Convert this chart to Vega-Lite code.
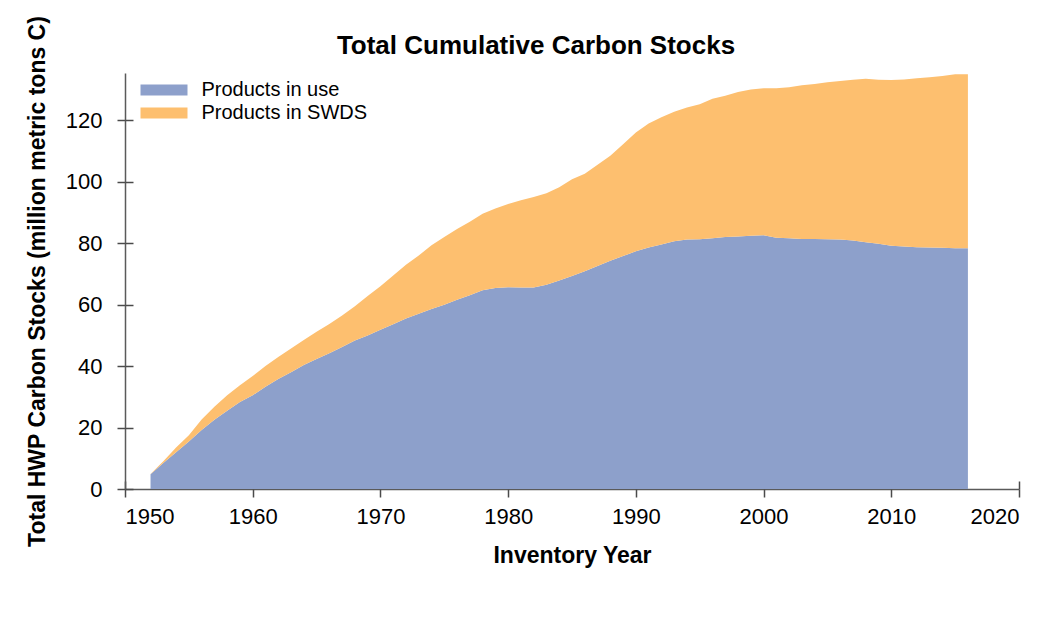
{
  "$schema": "https://vega.github.io/schema/vega-lite/v6.json",
  "autosize": "none",
  "width": 894,
  "height": 416,
  "padding": {"left": 125, "top": 73, "right": 31, "bottom": 149},
  "background": "white",
  "title": {"text": "Total Cumulative Carbon Stocks", "font": "Liberation Sans", "fontSize": 26, "fontWeight": "bold", "color": "#000000", "anchor": "middle", "frame": "group", "dx": -36, "dy": 59, "offset": 15},
  "config": {
    "view": {"stroke": null},
    "axis": {"grid": false, "labelFont": "Liberation Sans", "titleFont": "Liberation Sans", "labelColor": "#000000", "titleColor": "#000000", "domainColor": "#5a5a5a", "domainWidth": 1.5, "tickColor": "#4a4a4a", "tickWidth": 1.5}
  },
  "data": {"values": [
    {"year":1952,"pool":"Products in use","value":4.8},{"year":1952,"pool":"Products in SWDS","value":0.1},
    {"year":1953,"pool":"Products in use","value":8.5},{"year":1953,"pool":"Products in SWDS","value":0.5},
    {"year":1954,"pool":"Products in use","value":12.0},{"year":1954,"pool":"Products in SWDS","value":1.5},
    {"year":1955,"pool":"Products in use","value":15.5},{"year":1955,"pool":"Products in SWDS","value":2.0},
    {"year":1956,"pool":"Products in use","value":19.2},{"year":1956,"pool":"Products in SWDS","value":3.4},
    {"year":1957,"pool":"Products in use","value":22.5},{"year":1957,"pool":"Products in SWDS","value":4.3},
    {"year":1958,"pool":"Products in use","value":25.5},{"year":1958,"pool":"Products in SWDS","value":5.0},
    {"year":1959,"pool":"Products in use","value":28.3},{"year":1959,"pool":"Products in SWDS","value":5.5},
    {"year":1960,"pool":"Products in use","value":30.5},{"year":1960,"pool":"Products in SWDS","value":6.3},
    {"year":1961,"pool":"Products in use","value":33.3},{"year":1961,"pool":"Products in SWDS","value":6.7},
    {"year":1962,"pool":"Products in use","value":35.8},{"year":1962,"pool":"Products in SWDS","value":7.2},
    {"year":1963,"pool":"Products in use","value":38.0},{"year":1963,"pool":"Products in SWDS","value":7.7},
    {"year":1964,"pool":"Products in use","value":40.4},{"year":1964,"pool":"Products in SWDS","value":8.1},
    {"year":1965,"pool":"Products in use","value":42.3},{"year":1965,"pool":"Products in SWDS","value":8.9},
    {"year":1966,"pool":"Products in use","value":44.2},{"year":1966,"pool":"Products in SWDS","value":9.5},
    {"year":1967,"pool":"Products in use","value":46.2},{"year":1967,"pool":"Products in SWDS","value":10.3},
    {"year":1968,"pool":"Products in use","value":48.3},{"year":1968,"pool":"Products in SWDS","value":11.2},
    {"year":1969,"pool":"Products in use","value":50.0},{"year":1969,"pool":"Products in SWDS","value":12.8},
    {"year":1970,"pool":"Products in use","value":51.8},{"year":1970,"pool":"Products in SWDS","value":14.2},
    {"year":1971,"pool":"Products in use","value":53.6},{"year":1971,"pool":"Products in SWDS","value":15.9},
    {"year":1972,"pool":"Products in use","value":55.5},{"year":1972,"pool":"Products in SWDS","value":17.5},
    {"year":1973,"pool":"Products in use","value":57.0},{"year":1973,"pool":"Products in SWDS","value":19.0},
    {"year":1974,"pool":"Products in use","value":58.6},{"year":1974,"pool":"Products in SWDS","value":20.7},
    {"year":1975,"pool":"Products in use","value":60.0},{"year":1975,"pool":"Products in SWDS","value":22.0},
    {"year":1976,"pool":"Products in use","value":61.6},{"year":1976,"pool":"Products in SWDS","value":23.0},
    {"year":1977,"pool":"Products in use","value":63.1},{"year":1977,"pool":"Products in SWDS","value":23.9},
    {"year":1978,"pool":"Products in use","value":64.7},{"year":1978,"pool":"Products in SWDS","value":24.9},
    {"year":1979,"pool":"Products in use","value":65.4},{"year":1979,"pool":"Products in SWDS","value":25.9},
    {"year":1980,"pool":"Products in use","value":65.7},{"year":1980,"pool":"Products in SWDS","value":27.1},
    {"year":1981,"pool":"Products in use","value":65.6},{"year":1981,"pool":"Products in SWDS","value":28.4},
    {"year":1982,"pool":"Products in use","value":65.6},{"year":1982,"pool":"Products in SWDS","value":29.4},
    {"year":1983,"pool":"Products in use","value":66.5},{"year":1983,"pool":"Products in SWDS","value":29.8},
    {"year":1984,"pool":"Products in use","value":67.9},{"year":1984,"pool":"Products in SWDS","value":30.3},
    {"year":1985,"pool":"Products in use","value":69.3},{"year":1985,"pool":"Products in SWDS","value":31.5},
    {"year":1986,"pool":"Products in use","value":70.9},{"year":1986,"pool":"Products in SWDS","value":31.7},
    {"year":1987,"pool":"Products in use","value":72.6},{"year":1987,"pool":"Products in SWDS","value":32.9},
    {"year":1988,"pool":"Products in use","value":74.3},{"year":1988,"pool":"Products in SWDS","value":34.2},
    {"year":1989,"pool":"Products in use","value":75.8},{"year":1989,"pool":"Products in SWDS","value":36.4},
    {"year":1990,"pool":"Products in use","value":77.4},{"year":1990,"pool":"Products in SWDS","value":38.6},
    {"year":1991,"pool":"Products in use","value":78.6},{"year":1991,"pool":"Products in SWDS","value":40.4},
    {"year":1992,"pool":"Products in use","value":79.6},{"year":1992,"pool":"Products in SWDS","value":41.4},
    {"year":1993,"pool":"Products in use","value":80.6},{"year":1993,"pool":"Products in SWDS","value":42.2},
    {"year":1994,"pool":"Products in use","value":81.2},{"year":1994,"pool":"Products in SWDS","value":43.0},
    {"year":1995,"pool":"Products in use","value":81.3},{"year":1995,"pool":"Products in SWDS","value":43.9},
    {"year":1996,"pool":"Products in use","value":81.6},{"year":1996,"pool":"Products in SWDS","value":45.4},
    {"year":1997,"pool":"Products in use","value":82.0},{"year":1997,"pool":"Products in SWDS","value":46.0},
    {"year":1998,"pool":"Products in use","value":82.2},{"year":1998,"pool":"Products in SWDS","value":47.0},
    {"year":1999,"pool":"Products in use","value":82.4},{"year":1999,"pool":"Products in SWDS","value":47.6},
    {"year":2000,"pool":"Products in use","value":82.6},{"year":2000,"pool":"Products in SWDS","value":47.8},
    {"year":2001,"pool":"Products in use","value":81.8},{"year":2001,"pool":"Products in SWDS","value":48.6},
    {"year":2002,"pool":"Products in use","value":81.6},{"year":2002,"pool":"Products in SWDS","value":49.2},
    {"year":2003,"pool":"Products in use","value":81.4},{"year":2003,"pool":"Products in SWDS","value":50.0},
    {"year":2004,"pool":"Products in use","value":81.4},{"year":2004,"pool":"Products in SWDS","value":50.4},
    {"year":2005,"pool":"Products in use","value":81.3},{"year":2005,"pool":"Products in SWDS","value":51.1},
    {"year":2006,"pool":"Products in use","value":81.2},{"year":2006,"pool":"Products in SWDS","value":51.6},
    {"year":2007,"pool":"Products in use","value":80.9},{"year":2007,"pool":"Products in SWDS","value":52.3},
    {"year":2008,"pool":"Products in use","value":80.3},{"year":2008,"pool":"Products in SWDS","value":53.2},
    {"year":2009,"pool":"Products in use","value":79.8},{"year":2009,"pool":"Products in SWDS","value":53.4},
    {"year":2010,"pool":"Products in use","value":79.2},{"year":2010,"pool":"Products in SWDS","value":53.9},
    {"year":2011,"pool":"Products in use","value":78.9},{"year":2011,"pool":"Products in SWDS","value":54.4},
    {"year":2012,"pool":"Products in use","value":78.7},{"year":2012,"pool":"Products in SWDS","value":55.0},
    {"year":2013,"pool":"Products in use","value":78.6},{"year":2013,"pool":"Products in SWDS","value":55.4},
    {"year":2014,"pool":"Products in use","value":78.5},{"year":2014,"pool":"Products in SWDS","value":55.9},
    {"year":2015,"pool":"Products in use","value":78.4},{"year":2015,"pool":"Products in SWDS","value":56.6},
    {"year":2016,"pool":"Products in use","value":78.4},{"year":2016,"pool":"Products in SWDS","value":56.6}
  ]},
  "layer": [
    {
      "mark": {"type": "area", "interpolate": "linear", "opacity": 1},
      "encoding": {
        "x": {"field": "year", "type": "quantitative", "scale": {"domain": [1950, 2020], "nice": false, "zero": false},
          "axis": {"orient": "bottom", "values": [1950,1960,1970,1980,1990,2000,2010,2020], "format": "d", "tickSize": 8, "labelFontSize": 22, "labelPadding": 9, "title": "Inventory Year", "titleFontSize": 23, "titleFontWeight": "bold", "titlePadding": 17}},
        "y": {"field": "value", "type": "quantitative", "stack": "zero", "scale": {"domain": [0, 135.4], "nice": false},
          "axis": {"orient": "left", "values": [0,20,40,60,80,100,120], "tickSize": 8, "labelFontSize": 22, "labelPadding": 15, "title": "Total HWP Carbon Stocks (million metric tons C)", "titleFontSize": 23, "titleFontWeight": "bold", "titlePadding": 16}},
        "color": {"field": "pool", "type": "nominal", "sort": ["Products in use", "Products in SWDS"],
          "scale": {"domain": ["Products in use", "Products in SWDS"], "range": ["#8da0cb", "#fdbf6f"]},
          "legend": {"orient": "none", "legendX": 27, "legendY": 5, "title": null, "padding": 0, "symbolType": "M-2,-0.468H2V0.468H-2Z", "symbolSize": 552, "symbolStrokeWidth": 0, "symbolOpacity": 1, "labelFont": "Liberation Sans", "labelFontSize": 20, "labelColor": "#000000", "labelOffset": 25.5, "labelLimit": 400, "rowPadding": 1}}
      }
    },
    {
      "mark": {"type": "point", "opacity": 0},
      "encoding": {
        "x": {"field": "year", "type": "quantitative",
          "axis": {"orient": "bottom", "values": [1950,1960,1970,1980,1990,2000,2010,2020], "tickSize": -8, "labels": false, "domain": false, "title": null}},
        "y": {"field": "value", "type": "quantitative",
          "axis": {"orient": "left", "values": [0,20,40,60,80,100,120], "tickSize": -8, "labels": false, "domain": false, "title": null}}
      }
    }
  ],
  "resolve": {"axis": {"x": "independent", "y": "independent"}}
}
